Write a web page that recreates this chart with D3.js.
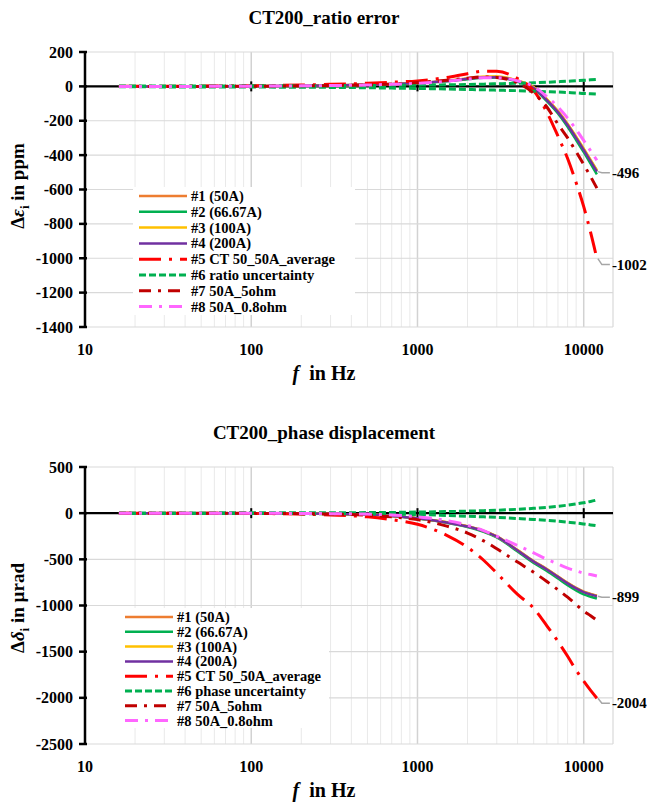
<html>
<head>
<script src="https://d3js.org/d3.v7.min.js"></script>
<style>
body { margin:0; background:white; }
text { font-family: "Liberation Serif", "Times New Roman", serif; font-weight: bold; fill: black; }
</style>
</head>
<body>
<script>
//FREQUENCIES (Hz) - same points for both charts
var freq = [16, 20, 30, 50, 100, 200, 300, 500, 700, 1000, 1500, 2000, 2500, 3000, 4000, 5000, 6000, 7000, 8000, 9000, 10000, 11000, 12000];

//RATIO ERROR (ppm)
var ratio1 = [0, 0, 0, 0, 1, 3, 5, 9, 13, 20, 32, 46, 55, 56, 33, -6, -75, -145, -220, -295, -365, -430, -490];
var ratio2 = [0, 0, 0, 0, 1, 3, 5, 9, 13, 19, 30, 42, 50, 51, 27, -14, -86, -158, -235, -312, -383, -450, -512];
var ratio3 = [0, 0, 0, 0, 1, 3, 5, 9, 13, 20, 32, 46, 56, 57, 34, -5, -74, -144, -218, -293, -362, -428, -488];
var ratio4 = [0, 0, 0, 0, 1, 3, 5, 9, 13, 19, 31, 44, 52, 53, 30, -10, -80, -150, -225, -300, -370, -435, -496];
var ratio5 = [1, 1, 1, 2, 4, 8, 12, 18, 24, 32, 52, 74, 88, 88, 45, -25, -150, -290, -420, -560, -700, -850, -1002];
var ratio6up = [2, 2, 2, 2, 3, 3, 4, 5, 6, 7, 9, 11, 13, 15, 18, 21, 24, 27, 30, 33, 35, 38, 40];
var ratio6low = [-2, -2, -3, -3, -4, -5, -6, -8, -10, -12, -15, -18, -20, -22, -25, -28, -31, -33, -36, -38, -41, -43, -45];
var ratio7 = [0, 0, 0, 0, 1, 3, 5, 9, 14, 22, 36, 48, 55, 52, 20, -40, -120, -220, -300, -380, -455, -525, -592];
var ratio8 = [0, 0, 0, 0, 1, 3, 5, 8, 12, 18, 30, 42, 50, 50, 32, 0, -60, -120, -185, -250, -315, -375, -430];

//PHASE DISPLACEMENT (µrad)
var phase1 = [0, 0, 0, -1, -2, -4, -7, -15, -30, -54, -98, -142, -192, -252, -400, -520, -605, -685, -755, -810, -850, -875, -895];
var phase2 = [0, 0, 0, -1, -2, -4, -7, -15, -31, -57, -103, -150, -202, -263, -415, -540, -627, -708, -780, -837, -880, -905, -925];
var phase3 = [0, 0, 0, -1, -2, -4, -7, -15, -30, -54, -98, -143, -193, -253, -402, -522, -607, -687, -757, -812, -852, -877, -896];
var phase4 = [0, 0, 0, -1, -2, -4, -7, -15, -30, -55, -100, -145, -195, -255, -405, -525, -610, -690, -760, -815, -855, -880, -899];
var phase5 = [0, 0, 0, -1, -3, -10, -20, -40, -70, -120, -240, -370, -510, -650, -880, -1030, -1220, -1390, -1550, -1700, -1820, -1920, -2004];
var phase6up = [3, 3, 3, 3, 4, 5, 5, 6, 8, 12, 17, 22, 27, 32, 42, 52, 63, 75, 87, 100, 112, 127, 143];
var phase6low = [-3, -3, -3, -3, -4, -5, -6, -8, -11, -15, -25, -33, -40, -46, -58, -68, -78, -88, -98, -107, -117, -127, -137];
var phase7 = [0, 0, 0, 0, -2, -5, -10, -22, -40, -70, -140, -215, -300, -385, -530, -640, -740, -830, -910, -990, -1060, -1110, -1160];
var phase8 = [0, 0, 0, 0, -1, -3, -5, -10, -20, -40, -80, -130, -190, -250, -350, -430, -500, -550, -595, -625, -650, -665, -680];

//LEGEND NAMES
var ratioNames = ["#1 (50A)", "#2 (66.67A)", "#3 (100A)", "#4 (200A)", "#5 CT 50_50A_average", "#6 ratio uncertainty", "#7 50A_5ohm", "#8 50A_0.8ohm"];
var phaseNames = ["#1 (50A)", "#2 (66.67A)", "#3 (100A)", "#4 (200A)", "#5 CT 50_50A_average", "#6 phase uncertainty", "#7 50A_5ohm", "#8 50A_0.8ohm"];

//AXIS TICKS
var xTicks = [10, 100, 1000, 10000];
var ratioTicks = [200, 0, -200, -400, -600, -800, -1000, -1200, -1400];
var phaseTicks = [500, 0, -500, -1000, -1500, -2000, -2500];

//LINE STYLES (index = legend entry)
var styles = [
	{color:"#ED7D31", width:2.5, dash:null},
	{color:"#00B050", width:2.5, dash:null},
	{color:"#FFC000", width:2.5, dash:null},
	{color:"#7030A0", width:2.5, dash:null},
	{color:"#FF0000", width:3, dash:"22,8,3,8"},
	{color:"#00B050", width:3, dash:"7,3"},
	{color:"#C00000", width:3, dash:"12,7,3,7"},
	{color:"#FF66FF", width:3, dash:"13,7,3,7"}
];

var svg = d3.select("body").append("svg")
	.attr("width", 647)
	.attr("height", 804);

var plotLeft = 85, plotRight = 613;

//DRAWING ONE CHART
function drawChart(c) {
	var g = svg.append("g");

	var x = d3.scaleLog().domain([10, 15000]).range([plotLeft, plotRight]);
	var y = d3.scaleLinear().domain([c.ticks[c.ticks.length-1], c.ticks[0]]).range([c.bottom, c.top]);

	//minor + major vertical gridlines
	var vLines = [];
	for (var p = 10; p <= 10000; p *= 10) {
		for (var k = 1; k <= 9; k++) {
			if (p*k <= 15000 && !(p == 10 && k == 1)) vLines.push({v:p*k, major:k==1});
		}
	}
	g.selectAll(".vgrid").data(vLines).enter().append("line")
		.attr("x1", function(d) { return x(d.v) })
		.attr("x2", function(d) { return x(d.v) })
		.attr("y1", c.top)
		.attr("y2", c.bottom)
		.attr("stroke", function(d) { return d.major ? "#d2d2d2" : "#e9e9e9" })
		.attr("stroke-width", function(d) { return d.major ? 1.5 : 1 });

	//horizontal gridlines
	g.selectAll(".hgrid").data(c.ticks).enter().append("line")
		.attr("x1", plotLeft)
		.attr("x2", plotRight)
		.attr("y1", function(d) { return y(d) })
		.attr("y2", function(d) { return y(d) })
		.attr("stroke", "#d9d9d9")
		.attr("stroke-width", 1.2);

	//right border of plot
	g.append("line")
		.attr("x1", plotRight).attr("x2", plotRight)
		.attr("y1", c.top).attr("y2", c.bottom)
		.attr("stroke", "#d9d9d9").attr("stroke-width", 1.2);

	//zero line (horizontal axis) with cross ticks
	g.append("line")
		.attr("x1", plotLeft).attr("x2", plotRight)
		.attr("y1", y(0)).attr("y2", y(0))
		.attr("stroke", "black").attr("stroke-width", 2.2);
	g.selectAll(".xtick").data(xTicks.slice(1)).enter().append("line")
		.attr("x1", function(d) { return x(d) })
		.attr("x2", function(d) { return x(d) })
		.attr("y1", y(0)-5)
		.attr("y2", y(0)+5)
		.attr("stroke", "black").attr("stroke-width", 2);

	//vertical axis
	g.append("line")
		.attr("x1", plotLeft).attr("x2", plotLeft)
		.attr("y1", c.top).attr("y2", c.bottom)
		.attr("stroke", "black").attr("stroke-width", 2.5);
	g.selectAll(".ytick").data(c.ticks).enter().append("line")
		.attr("x1", plotLeft-6)
		.attr("x2", plotLeft+2)
		.attr("y1", function(d) { return y(d) })
		.attr("y2", function(d) { return y(d) })
		.attr("stroke", "black").attr("stroke-width", 2.5);

	//tick labels
	g.selectAll(".ylab").data(c.ticks).enter().append("text")
		.attr("x", plotLeft-12)
		.attr("y", function(d) { return y(d) })
		.attr("dy", "0.35em")
		.attr("text-anchor", "end")
		.style("font-size", "16px")
		.text(function(d) { return d });
	g.selectAll(".xlab").data(xTicks).enter().append("text")
		.attr("x", function(d) { return x(d) })
		.attr("y", c.bottom+28)
		.attr("text-anchor", "middle")
		.style("font-size", "16px")
		.text(function(d) { return d });

	//title and axis titles
	g.append("text")
		.attr("x", 324).attr("y", c.titleY)
		.attr("text-anchor", "middle")
		.style("font-size", "19px")
		.text(c.title);

	var xt = g.append("text")
		.attr("x", 324).attr("y", c.bottom+53)
		.attr("text-anchor", "middle")
		.style("font-size", "20px");
	xt.append("tspan").style("font-style", "italic").text("f");
	xt.append("tspan").text("\u00a0 in Hz");

	var yt = g.append("text")
		.attr("transform", "translate(24," + c.yTitleY + ") rotate(-90)")
		.attr("text-anchor", "middle")
		.style("font-size", "19px");
	yt.append("tspan").text("\u0394");
	yt.append("tspan").style("font-style", "italic").text(c.symbol);
	yt.append("tspan").attr("dy", 5).style("font-size", "13px").text("i");
	yt.append("tspan").attr("dy", -5).text(" in " + c.unit);

	//curves
	var line = d3.line()
		.x(function(d) { return x(d[0]) })
		.y(function(d) { return y(d[1]) })
		.curve(d3.curveMonotoneX);

	c.series.forEach(function(s) {
		var st = styles[s.style];
		g.append("path")
			.datum(d3.zip(freq, s.values))
			.attr("d", line)
			.attr("fill", "none")
			.attr("stroke", st.color)
			.attr("stroke-width", st.width)
			.attr("stroke-dasharray", st.dash);
	});

	//end value labels with leader lines
	c.labels.forEach(function(l) {
		var last = l.values[l.values.length-1];
		var x0 = x(freq[freq.length-1]), y0 = y(last);
		var ly = y0 + l.dy;
		g.append("polyline")
			.attr("points", (x0+1) + "," + y0 + " " + (x0+5) + "," + ly + " " + (x0+13) + "," + ly)
			.attr("fill", "none")
			.attr("stroke", "#a6a6a6")
			.attr("stroke-width", 1.5);
		g.append("text")
			.attr("x", x0+15).attr("y", ly)
			.attr("dy", "0.35em")
			.style("font-size", "15px")
			.text(last);
	});

	//legend
	var lg = g.append("g");
	lg.append("rect")
		.attr("x", c.legend.x).attr("y", c.legend.y)
		.attr("width", c.legend.w).attr("height", c.legend.h)
		.attr("fill", "white");
	var items = lg.selectAll(".item").data(c.names).enter().append("g")
		.attr("transform", function(d, i) { return "translate(" + c.legend.sx + "," + (c.legend.y0 + i*c.legend.step) + ")" });
	items.append("line")
		.attr("x1", 0).attr("x2", 48)
		.attr("stroke", function(d, i) { return styles[i].color })
		.attr("stroke-width", function(d, i) { return styles[i].width })
		.attr("stroke-dasharray", function(d, i) { return styles[i].dash });
	items.append("text")
		.attr("x", 52)
		.attr("dy", "0.35em")
		.style("font-size", "14.5px")
		.text(function(d) { return d });
}

drawChart({
	top:52, bottom:327, ticks:ratioTicks,
	title:"CT200_ratio error", titleY:24, yTitleY:186,
	symbol:"\u03b5", unit:"ppm",
	names:ratioNames,
	series:[
		{values:ratio1, style:0}, {values:ratio2, style:1}, {values:ratio3, style:2}, {values:ratio4, style:3},
		{values:ratio5, style:4}, {values:ratio6up, style:5}, {values:ratio6low, style:5},
		{values:ratio7, style:6}, {values:ratio8, style:7}
	],
	labels:[{values:ratio4, dy:1}, {values:ratio5, dy:6}],
	legend:{x:133, y:187, w:222, h:128, sx:139, y0:196, step:15.8}
});

drawChart({
	top:467, bottom:744, ticks:phaseTicks,
	title:"CT200_phase displacement", titleY:439, yTitleY:608,
	symbol:"\u03b4", unit:"\u00b5rad",
	names:phaseNames,
	series:[
		{values:phase1, style:0}, {values:phase2, style:1}, {values:phase3, style:2}, {values:phase4, style:3},
		{values:phase5, style:4}, {values:phase6up, style:5}, {values:phase6low, style:5},
		{values:phase7, style:6}, {values:phase8, style:7}
	],
	labels:[{values:phase4, dy:1}, {values:phase5, dy:5}],
	legend:{x:87, y:608, w:242, h:120, sx:125, y0:617, step:14.8}
});

</script>
</body>
</html>
